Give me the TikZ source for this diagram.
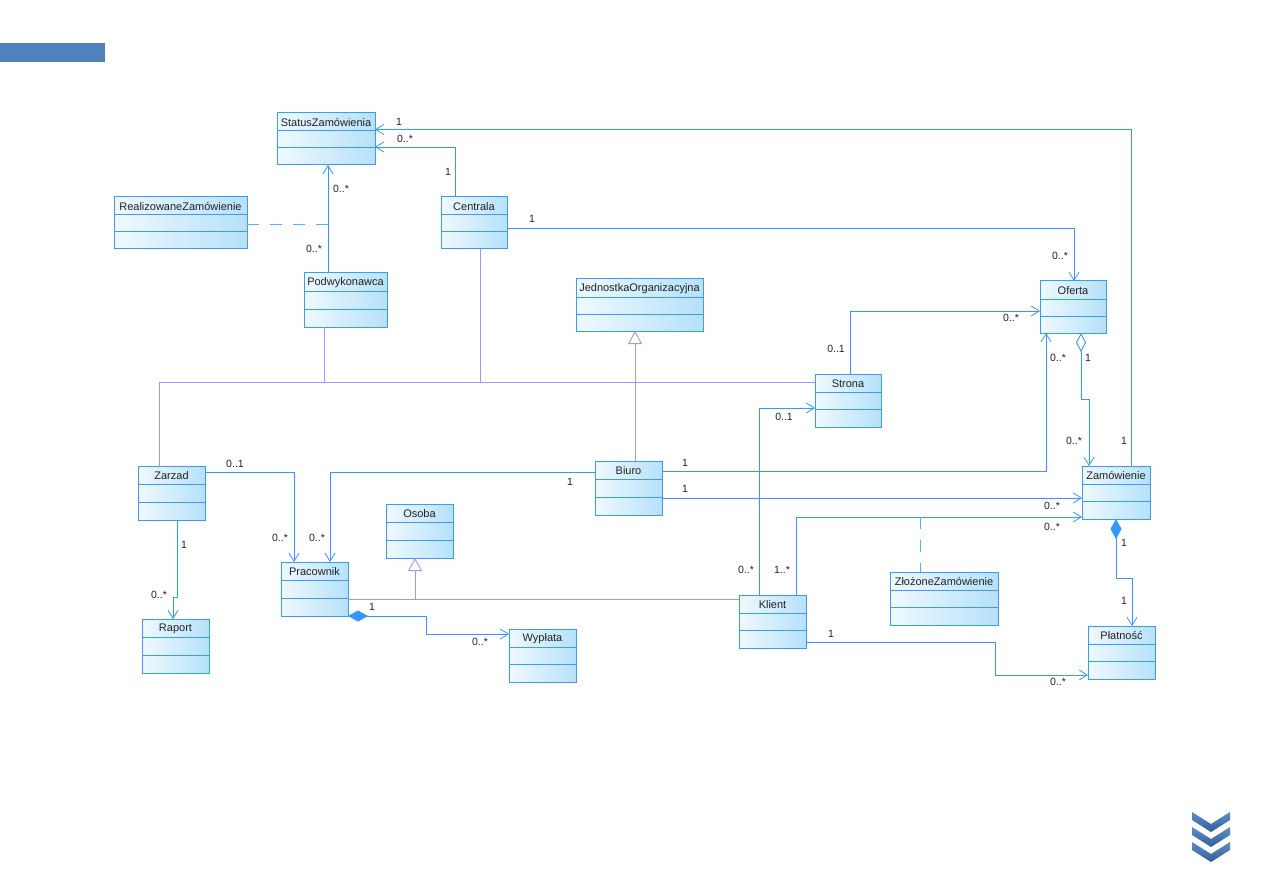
\documentclass[tikz,border=0pt]{standalone}
\usepackage{fontspec}
\setmainfont{Liberation Sans}
\usetikzlibrary{arrows.meta,calc}
\definecolor{lineblue}{HTML}{3399FF}
\definecolor{boxborder}{HTML}{3B9CF0}
\definecolor{genline}{HTML}{9999FF}
\definecolor{boxL}{HTML}{EFF9FE}
\definecolor{boxR}{HTML}{B6E1FA}
\definecolor{barblue}{HTML}{4F81BD}
\definecolor{bardark}{HTML}{2F5E9C}
\definecolor{txt}{HTML}{222222}
\newcommand\umlclass[6]{%
  \pgfmathsetmacro\ucA{#3+18}%
  \pgfmathsetmacro\ucB{#3+18+(#5-18)/2}%
  \pgfmathsetmacro\ucC{#3+#5}%
  \pgfmathsetmacro\ucE{#2+#4}%
  \shade[left color=boxL,right color=boxR] (#2,#3) rectangle (\ucE,\ucA);
  \shade[left color=boxL,right color=boxR] (#2,\ucA) rectangle (\ucE,\ucB);
  \shade[left color=boxL,right color=boxR] (#2,\ucB) rectangle (\ucE,\ucC);
  \node[classbox,minimum width=#4pt,minimum height=#5pt] (#1) at (#2,#3) {};
  \draw[boxborder,line width=1pt] (#2,\ucA) -- (\ucE,\ucA) (#2,\ucB) -- (\ucE,\ucB);
  \node[classname] (#1-t) at ({#2+#4/2},{#3+9.5}) {#6};
}
\tikzset{
  classbox/.style={draw=boxborder,line width=1pt,inner sep=0pt,outer sep=0pt,anchor=north west},
  classname/.style={font=\fontsize{11}{13}\selectfont,text=txt,inner sep=0pt},
  mult/.style={font=\fontsize{10.5}{12}\selectfont,text=txt,inner sep=0pt},
  assoc/.style={draw=lineblue,line width=0.9pt,-{Straight Barb[length=8pt,width=10pt,line width=0.8pt]}},
  plain/.style={draw=lineblue,line width=0.9pt},
  aggr/.style={draw=lineblue,line width=0.9pt,{Diamond[open,length=19pt,width=10pt,fill=white]}-{Straight Barb[length=8pt,width=10pt,line width=0.8pt]}},
  comp/.style={draw=lineblue,line width=0.9pt,{Diamond[length=20pt,width=11pt]}-{Straight Barb[length=8pt,width=10pt,line width=0.8pt]}},
  gen/.style={draw=genline,line width=0.9pt,-{Triangle[open,length=13pt,width=14pt,fill=white]}},
  genplain/.style={draw=genline,line width=0.9pt},
  assocclass/.style={draw=lineblue!80,line width=0.9pt,dash pattern=on 12pt off 11pt},
}
\begin{document}
\begin{tikzpicture}[x=1pt,y=-1pt]
\useasboundingbox (0,0) rectangle (1263,893);
\fill[white] (0,0) rectangle (1263,893);
% top-left bar
\fill[barblue] (0,43) rectangle (105,62);
% chevrons
\foreach \i in {0,1,2}{
  \shade[top color=barblue!90,bottom color=bardark]
    (1192,{812+15*\i}) -- (1211,{824+15*\i}) -- (1230,{812+15*\i}) -- (1230,{820+15*\i})
    -- (1211,{832+15*\i}) -- (1192,{820+15*\i}) -- cycle;
}
% classes
\umlclass{Status}{277}{113}{98}{52}{StatusZamówienia}
\umlclass{Realiz}{114}{197}{133}{52}{RealizowaneZamówienie}
\umlclass{Centrala}{441}{197}{66}{52}{Centrala}
\umlclass{Podw}{304}{273}{83}{54}{Podwykonawca}
\umlclass{Jedn}{576}{279}{127}{52}{JednostkaOrganizacyjna}
\umlclass{Oferta}{1040}{281}{66}{52}{Oferta}
\umlclass{Strona}{815}{374}{66}{53}{Strona}
\umlclass{Zarzad}{138}{466}{67}{54}{Zarzad}
\umlclass{Biuro}{595}{461}{67}{54}{Biuro}
\umlclass{Zam}{1082}{466}{68}{53}{Zamówienie}
\umlclass{Osoba}{386}{504}{67}{54}{Osoba}
\umlclass{Prac}{281}{562}{67}{54}{Pracownik}
\umlclass{Zloz}{890}{572}{108}{53}{ZłożoneZamówienie}
\umlclass{Klient}{739}{595}{67}{53}{Klient}
\umlclass{Raport}{142}{619}{67}{54}{Raport}
\umlclass{Wyp}{509}{629}{67}{53}{Wypłata}
\umlclass{Plat}{1088}{626}{67}{53}{Płatność}
% generalization tree
\draw[genplain] (Zarzad.north -| 159,0) |- (Strona.west |- 0,382);
\draw[genplain] (Podw.south -| 324,0) -- (324,382);
\draw[genplain] (Centrala.south -| 480,0) -- (480,382);
\draw[gen] (Biuro.north -| 635,0) -- (Jedn.south -| 635,0);
\draw[genplain] (Prac.east |- 0,599) -- (Klient.west |- 0,599);
\draw[gen] (415,599) -- (Osoba.south -| 415,0);
% associations
\draw[assoc] (Zam.north -| 1131,0) |- (Status.east |- 0,129.5);
\draw[assoc] (Centrala.north -| 455.5,0) |- (Status.east |- 0,147);
\draw[assoc] (Podw.north -| 328,0) -- (Status.south -| 328,0);
\coordinate (rzj) at (328,224);
\draw[assocclass] (Realiz.east |- 0,224) -- (rzj);
\draw[assoc] (Centrala.east |- 0,228) -| (Oferta.north -| 1074,0);
\draw[assoc] (Strona.north -| 850,0) |- (Oferta.west |- 0,311);
\draw[aggr] (Oferta.south -| 1081,0) -- (1081,399) -| (Zam.north -| 1089,0);
\draw[assoc] (Biuro.east |- 0,471) -| (Oferta.south -| 1046,0);
\draw[assoc] (Biuro.east |- 0,498) -- (Zam.west |- 0,498);
\draw[assoc] (Biuro.west |- 0,472) -| (Prac.north -| 330,0);
\draw[assoc] (Zarzad.east |- 0,472) -| (Prac.north -| 294,0);
\draw[assoc] (Zarzad.south -| 177,0) -- (177,597) -| (Raport.north -| 173,0);
\draw[comp] (Prac.south east) -- (426,616) |- (Wyp.west |- 0,634);
\draw[assoc] (Klient.north -| 759,0) |- (Strona.west |- 0,408);
\draw[assoc] (Klient.north -| 796,0) |- (Zam.west |- 0,517);
\coordinate (zzj) at (920,517);
\draw[assocclass] (zzj) -- (Zloz.north -| 920,0);
\draw[comp] (Zam.south -| 1116,0) -- (1116,578) -| (Plat.north -| 1132,0);
\draw[assoc] (Klient.east |- 0,642) -| (995,675) -- (Plat.west |- 0,675);
% multiplicities
\node[mult] (m1) at (399,122) {1};
\node[mult] (m2) at (405,139) {0..*};
\node[mult] (m3) at (448,172) {1};
\node[mult] (m4) at (341,189) {0..*};
\node[mult] (m5) at (314,249) {0..*};
\node[mult] (m6) at (532,219) {1};
\node[mult] (m7) at (1060,256) {0..*};
\node[mult] (m8) at (1011,318) {0..*};
\node[mult] (m9) at (836,349) {0..1};
\node[mult] (m10) at (1058,358) {0..*};
\node[mult] (m11) at (1088,358) {1};
\node[mult] (m12) at (784,417) {0..1};
\node[mult] (m13) at (1074,441) {0..*};
\node[mult] (m14) at (1124,441) {1};
\node[mult] (m15) at (235,464) {0..1};
\node[mult] (m16) at (685,463) {1};
\node[mult] (m17) at (570,482) {1};
\node[mult] (m18) at (685,489) {1};
\node[mult] (m19) at (1052,506) {0..*};
\node[mult] (m20) at (1052,527) {0..*};
\node[mult] (m21) at (184,545) {1};
\node[mult] (m22) at (280,538) {0..*};
\node[mult] (m23) at (317,538) {0..*};
\node[mult] (m24) at (1124,543) {1};
\node[mult] (m25) at (746,570) {0..*};
\node[mult] (m26) at (782,570) {1..*};
\node[mult] (m27) at (159,595) {0..*};
\node[mult] (m28) at (1124,601) {1};
\node[mult] (m29) at (372,607) {1};
\node[mult] (m30) at (831,634) {1};
\node[mult] (m31) at (480,642) {0..*};
\node[mult] (m32) at (1058,682) {0..*};
\end{tikzpicture}
\end{document}
